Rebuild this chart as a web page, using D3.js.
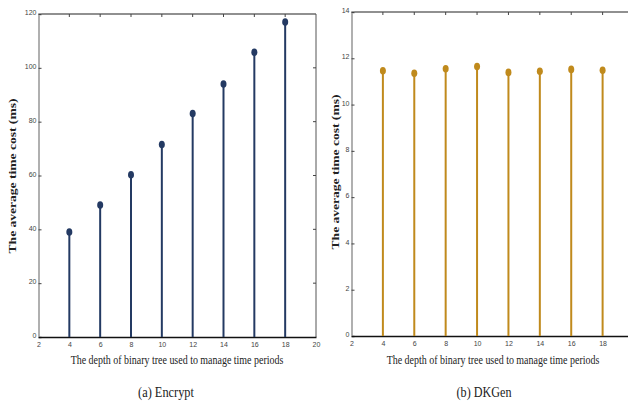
<!DOCTYPE html>
<html><head><meta charset="utf-8">
<script src="https://cdn.jsdelivr.net/npm/d3@7"></script>
<style>body{margin:0;background:#fff}svg{display:block}</style>
</head><body>
<svg id="c" width="628" height="403"></svg>
<script>
const depths = [4, 6, 8, 10, 12, 14, 16, 18];
const encryptCost = [39, 49, 60.3, 71.5, 83, 94, 105.8, 117];
const dkgenCost = [11.46, 11.35, 11.55, 11.64, 11.39, 11.44, 11.52, 11.48];
const xTicks = [2, 4, 6, 8, 10, 12, 14, 16, 18, 20];
const xTicksVisibleB = [2, 4, 6, 8, 10, 12, 14, 16, 18];
const encryptYTicks = [0, 20, 40, 60, 80, 100, 120];
const dkgenYTicks = [0, 2, 4, 6, 8, 10, 12, 14];
const yLabel = "The average time cost (ms)";
const xLabel = "The depth of binary tree used to manage time periods";
const captions = ["(a) Encrypt", "(b) DKGen"];

const svg = d3.select("#c");

// place a text centred at (cx, cy-baseline) squeezed horizontally to a target width
function squeezed(g, txt, cx, by, size, width, rot, bold) {
  const t = g.append("text").attr("text-anchor", "middle")
    .attr("font-family", "Liberation Serif, serif").attr("font-size", size)
    .attr("font-weight", bold ? "bold" : "normal").attr("fill", "#222").text(txt);
  const w = t.node().getComputedTextLength();
  const s = width / w;
  t.attr("transform", `translate(${cx},${by}) rotate(${rot}) scale(${s},1)`);
  return t;
}

function panel(o) {
  const g = svg.append("g");
  const x = d3.scaleLinear().domain([2, 20]).range([o.x0, o.x1]);
  const y = d3.scaleLinear().domain([0, o.ymax]).range([o.yb, o.yt]);
  g.append("line").attr("x1", o.x0).attr("x2", o.x1).attr("y1", o.yt).attr("y2", o.yt)
    .attr("stroke", "#222").attr("stroke-width", 1.2);
  g.append("line").attr("x1", o.x1).attr("x2", o.x1).attr("y1", o.yt).attr("y2", o.yb)
    .attr("stroke", "#555").attr("stroke-width", 1);
  g.selectAll(".tt").data(xTicks.slice(1, -1)).enter().append("line")
    .attr("x1", d => x(d)).attr("x2", d => x(d)).attr("y1", o.yt).attr("y2", o.yt + 3)
    .attr("stroke", "#444").attr("stroke-width", 1);
  g.selectAll(".rt").data(o.yTicks.slice(1, -1)).enter().append("line")
    .attr("x1", o.x1).attr("x2", o.x1 - 3).attr("y1", d => y(d)).attr("y2", d => y(d))
    .attr("stroke", "#444").attr("stroke-width", 1);
  const ya = g.append("g").attr("transform", `translate(${o.x0},0)`)
    .call(d3.axisLeft(y).tickValues(o.yTicks).tickSize(-3).tickPadding(2));
  ya.select(".domain").attr("stroke", "#b0b0b0").attr("stroke-width", 2);
  ya.selectAll(".tick line").attr("stroke", "#444");
  ya.selectAll("text").attr("font-family", "Liberation Sans Narrow, Liberation Sans, sans-serif")
    .attr("font-size", 7).attr("fill", "#444").attr("dy", "0.1em");
  const xa = g.append("g").attr("transform", `translate(0,${o.yb})`)
    .call(d3.axisBottom(x).tickValues(o.xt).tickSize(0).tickPadding(5));
  xa.select(".domain").attr("stroke", "#111").attr("stroke-width", 1.4);
  xa.selectAll("text").attr("font-family", "Liberation Sans Narrow, Liberation Sans, sans-serif")
    .attr("font-size", 7).attr("fill", "#444");
  g.selectAll(".stem").data(o.vals).enter().append("line")
    .attr("x1", (d, i) => x(depths[i])).attr("x2", (d, i) => x(depths[i]))
    .attr("y1", o.yb).attr("y2", d => y(d))
    .attr("stroke", o.color).attr("stroke-width", 2);
  g.selectAll(".dot").data(o.vals).enter().append("ellipse")
    .attr("cx", (d, i) => x(depths[i])).attr("cy", d => y(d))
    .attr("rx", 3).attr("ry", 3.8).attr("fill", o.color);
  squeezed(g, yLabel, o.ylx, o.yly, 11, 155, -90, true);
  squeezed(g, xLabel, o.xlx, 364, 11.5, 213, 0, false);
  squeezed(g, o.caption, o.cx, 397, 15, o.cw, 0, false);
}

panel({x0: 38.5, x1: 316, yt: 14, yb: 337, ymax: 120, yTicks: encryptYTicks, vals: encryptCost, xt: xTicks,
  color: "#243a63", ylx: 16, yly: 176, xlx: 177, cx: 166, cw: 56, caption: captions[0]});
panel({x0: 351.5, x1: 634, yt: 12, yb: 336, ymax: 14, yTicks: dkgenYTicks, vals: dkgenCost, xt: xTicksVisibleB,
  color: "#c08a1c", ylx: 339, yly: 172, xlx: 493, cx: 484, cw: 55, caption: captions[1]});
</script>
</body></html>
